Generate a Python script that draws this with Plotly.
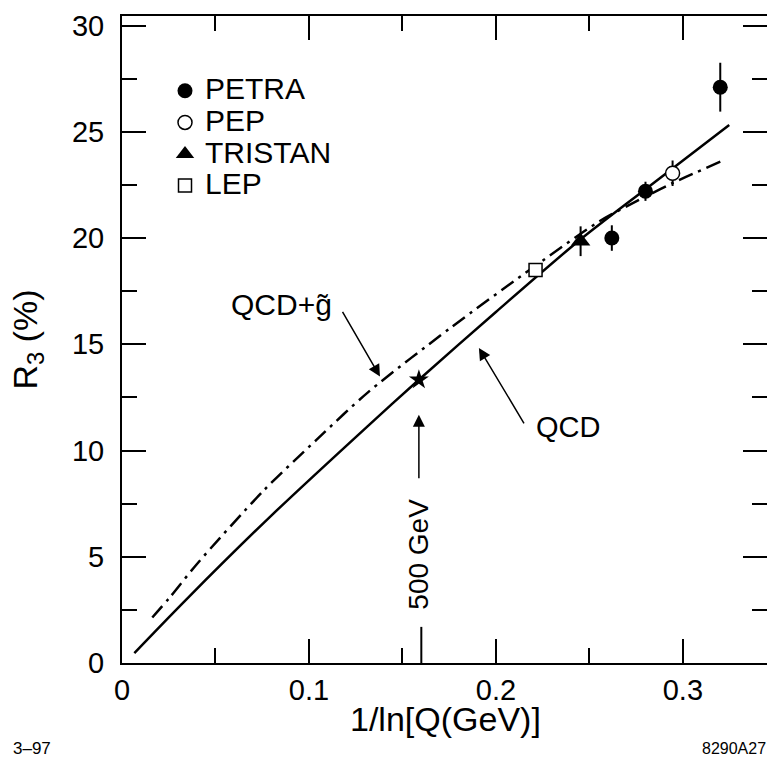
import plotly.graph_objects as go

# ---------------- data ----------------
petra_x = [0.262, 0.280, 0.320]
petra_y = [20.0, 22.2, 27.1]
petra_err = [0.6, 0.45, 1.15]

pep_x = [0.2945]
pep_y = [23.05]
pep_err = [0.6]

tristan_x = [0.2453]
tristan_y = [19.85]
tristan_err = [0.7]

lep_x = [0.2212]
lep_y = [18.5]

star_x = [0.1588]
star_y = [13.33]

qcd_x = [0.0066, 0.0346, 0.08, 0.1322, 0.1588, 0.2, 0.245, 0.28, 0.3248]
qcd_y = [0.47, 3.01, 6.95, 11.21, 13.33, 16.52, 19.92, 22.3, 25.32]

gluino_x = [0.0162, 0.0253, 0.040, 0.0756, 0.104, 0.1317, 0.1754, 0.2212, 0.2556, 0.280, 0.2948, 0.3202]
gluino_y = [2.14, 3.06, 4.65, 8.1, 10.5, 12.75, 15.75, 18.7, 20.8, 21.95, 22.6, 23.6]

x_ticks = [0, 0.1, 0.2, 0.3]
x_ticklabels = ["0", "0.1", "0.2", "0.3"]

FONT = "Liberation Sans, Arial, Helvetica, sans-serif"
W, H = 767, 768
ML, MR, MT, MB = 122, 0, 16, 105

def paper_x(px):
    return (px - ML) / (W - ML - MR)

def paper_y(py):
    return (H - MB - py) / (H - MT - MB)

fig = go.Figure()

fig.add_trace(go.Scatter(x=qcd_x, y=qcd_y, mode="lines", line=dict(color="black", width=2.5, shape="spline", smoothing=0.8),
                         showlegend=False, hoverinfo="skip"))
fig.add_trace(go.Scatter(x=gluino_x, y=gluino_y, mode="lines",
                         line=dict(color="black", width=2.5, dash="15px,6px,3px,6px", shape="spline", smoothing=0.8),
                         showlegend=False, hoverinfo="skip"))

lg = 30
fig.add_trace(go.Scatter(x=petra_x, y=petra_y, mode="markers", name=f"<span style='font-size:{lg}px'>PETRA</span>",
                         marker=dict(symbol="circle", size=15, color="black"),
                         error_y=dict(type="data", array=petra_err, color="black", thickness=2, width=0)))
fig.add_trace(go.Scatter(x=pep_x, y=pep_y, mode="markers", name=f"<span style='font-size:{lg}px'>PEP</span>",
                         marker=dict(symbol="circle", size=14, color="white", line=dict(color="black", width=1.5)),
                         error_y=dict(type="data", array=pep_err, color="black", thickness=2, width=0)))
fig.add_trace(go.Scatter(x=tristan_x, y=tristan_y, mode="markers", name=f"<span style='font-size:{lg}px'>TRISTAN</span>",
                         marker=dict(symbol="triangle-up", size=17, color="black"),
                         error_y=dict(type="data", array=tristan_err, color="black", thickness=2, width=0)))
fig.add_trace(go.Scatter(x=lep_x, y=lep_y, mode="markers", name=f"<span style='font-size:{lg}px'>LEP</span>",
                         marker=dict(symbol="square", size=13, color="white", line=dict(color="black", width=1.5))))
fig.add_trace(go.Scatter(x=star_x, y=star_y, mode="markers", marker=dict(symbol="star", size=15, color="black"),
                         showlegend=False))

annotations = [
    # x-axis title
    dict(x=paper_x(445.5), y=paper_y(719), xref="paper", yref="paper", xanchor="center", yanchor="middle",
         text="1/ln[Q(GeV)]", showarrow=False, font=dict(size=34, family=FONT, color="black")),
    # QCD + gluino label and arrow
    dict(x=0.0855, y=16.85, xref="x", yref="y", text="QCD+g\u0303", showarrow=False,
         font=dict(size=30, family=FONT, color="black")),
    dict(x=0.138, y=13.48, ax=0.1175, ay=16.6, xref="x", yref="y", axref="x", ayref="y", text="",
         showarrow=True, arrowhead=2, arrowsize=1.6, arrowwidth=1.5, arrowcolor="black", standoff=0),
    # QCD label and arrow
    dict(x=0.2385, y=11.11, xref="x", yref="y", text="QCD", showarrow=False,
         font=dict(size=29, family=FONT, color="black")),
    dict(x=0.1909, y=14.83, ax=0.2155, ay=11.21, xref="x", yref="y", axref="x", ayref="y", text="",
         showarrow=True, arrowhead=2, arrowsize=1.6, arrowwidth=1.5, arrowcolor="black", standoff=0),
    # 500 GeV
    dict(x=star_x[0], y=5.14, xref="x", yref="y", text="500 GeV", showarrow=False, textangle=-90,
         font=dict(size=28, family=FONT, color="black")),
    dict(x=star_x[0], y=11.68, ax=star_x[0], ay=8.62, xref="x", yref="y", axref="x", ayref="y", text="",
         showarrow=True, arrowhead=2, arrowsize=1.6, arrowwidth=1.5, arrowcolor="black", standoff=0),
    # corner labels
    dict(x=paper_x(31.5), y=paper_y(748), xref="paper", yref="paper", xanchor="center", yanchor="middle",
         text="3\u201397", showarrow=False, font=dict(size=17, family=FONT, color="black")),
    dict(x=paper_x(734), y=paper_y(748), xref="paper", yref="paper", xanchor="center", yanchor="middle",
         text="8290A27", showarrow=False, font=dict(size=16, family=FONT, color="black")),
]

shapes = [
    dict(type="line", xref="x", yref="y", x0=star_x[0] + 0.0013, x1=star_x[0] + 0.0013, y0=0, y1=1.7,
         line=dict(color="black", width=2)),
]

axis_common = dict(showline=True, linewidth=2, linecolor="black", mirror="ticks", ticks="inside",
                   tickwidth=2, tickcolor="black", ticklen=24, showgrid=False, zeroline=False, automargin=False,
                   tickfont=dict(size=29, family=FONT, color="black"))

fig.update_layout(
    width=W, height=H,
    margin=dict(l=ML, r=MR, t=MT, b=MB, autoexpand=False),
    paper_bgcolor="white", plot_bgcolor="white",
    font=dict(family=FONT, color="black"),
    xaxis=dict(range=[0, 0.345], tickvals=x_ticks, ticktext=x_ticklabels,
               minor=dict(dtick=0.05, tick0=0, ticklen=15, tickwidth=2, tickcolor="black", ticks="inside", showgrid=False),
               ticklabelstandoff=0, **axis_common),
    yaxis=dict(range=[0, 30.45], dtick=5, tick0=0,
               minor=dict(dtick=2.5, tick0=0, ticklen=15, tickwidth=2, tickcolor="black", ticks="inside", showgrid=False),
               title=dict(text="R<sub>3</sub> (%)", font=dict(size=34, family=FONT, color="black"), standoff=24),
               ticklabelstandoff=10, **axis_common),
    legend=dict(x=paper_x(165), y=paper_y(70), xanchor="left", yanchor="top", bgcolor="rgba(0,0,0,0)",
                font=dict(size=22, family=FONT, color="black"), borderwidth=0, tracegroupgap=0),
    annotations=annotations,
    shapes=shapes,
)

fig.write_html("out.html", config={"displayModeBar": False},
               post_script="document.body.style.margin='0';")
